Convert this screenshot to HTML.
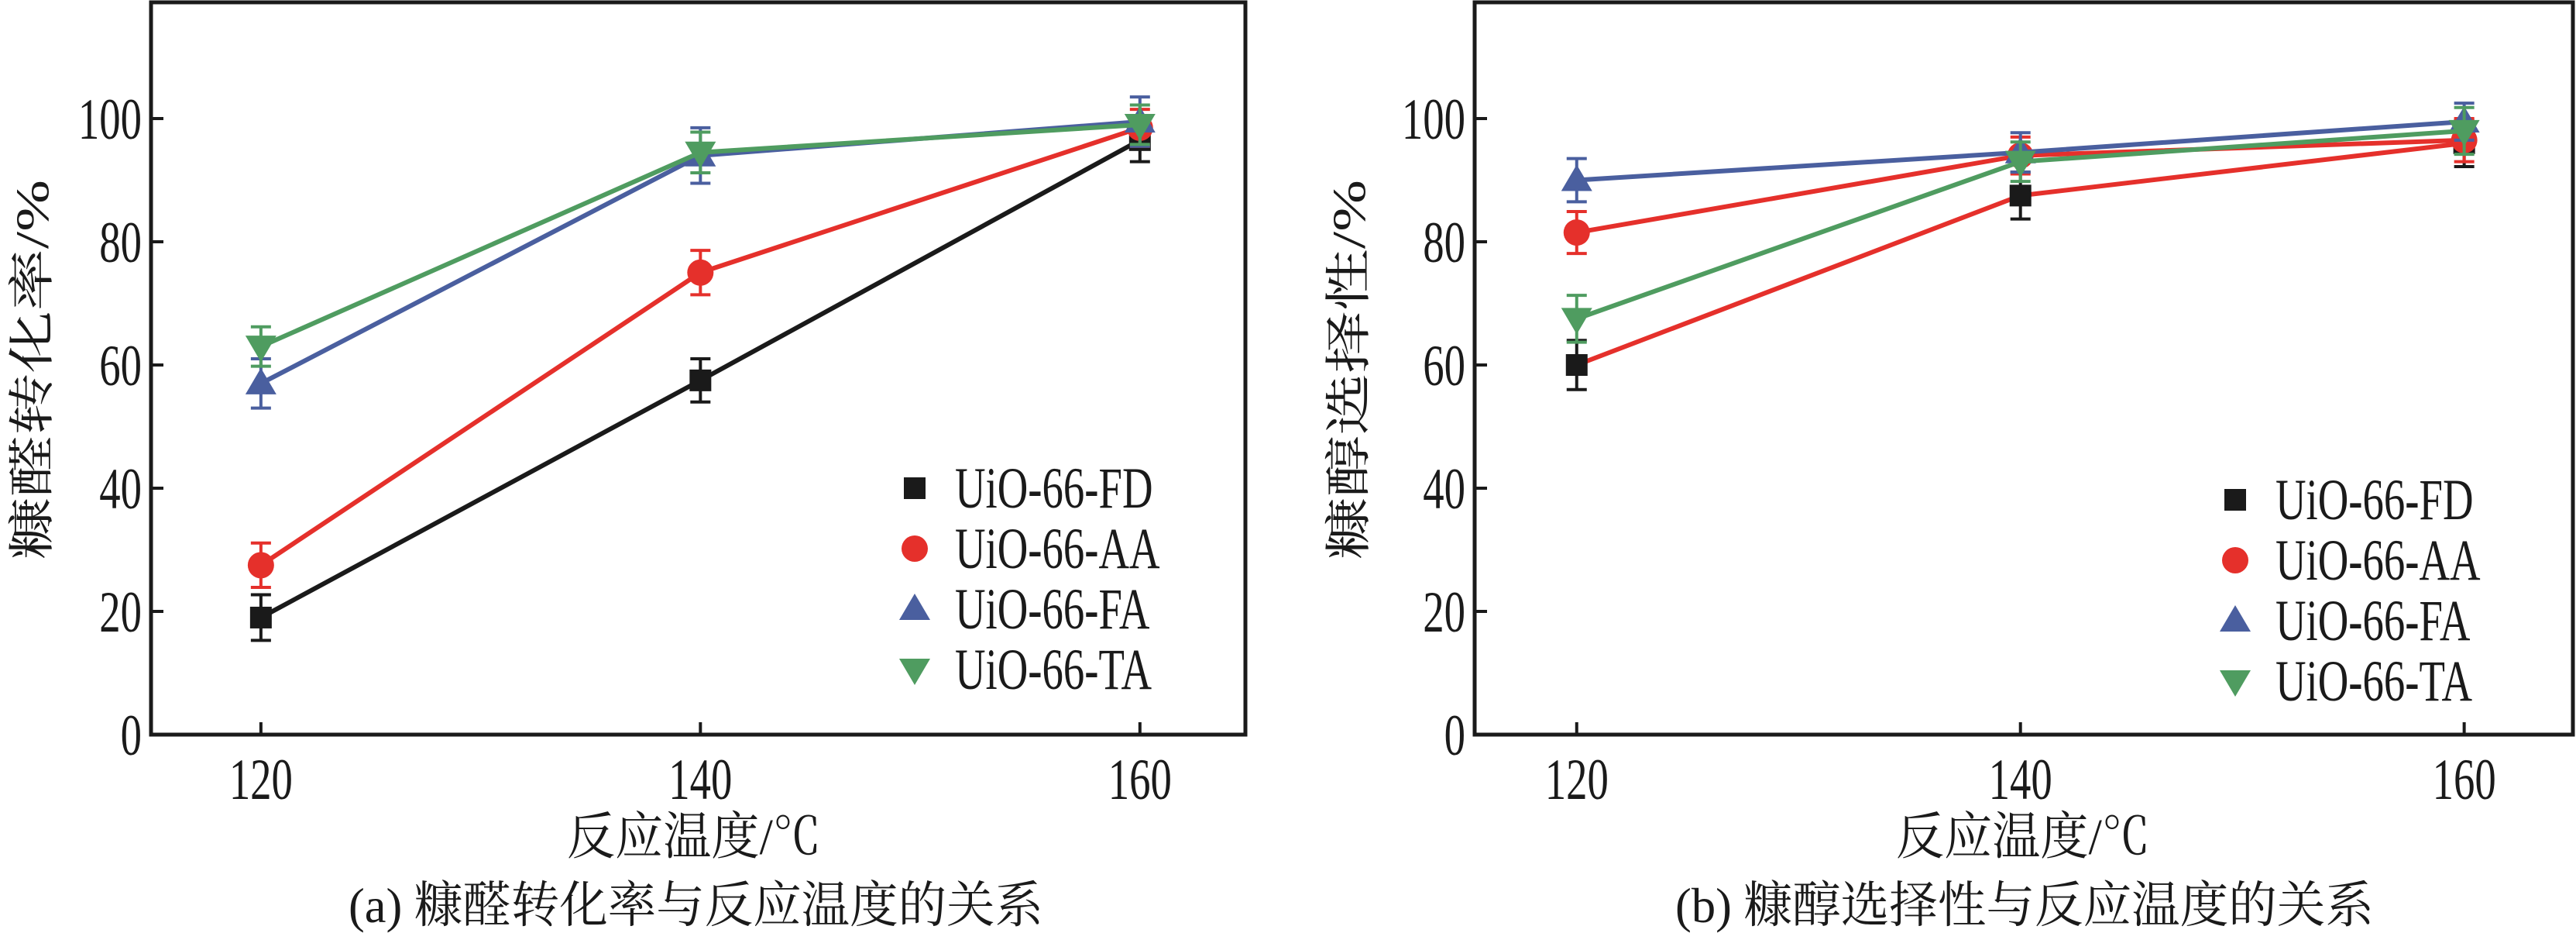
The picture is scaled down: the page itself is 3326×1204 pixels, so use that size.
<!DOCTYPE html>
<html><head><meta charset="utf-8"><style>
html,body{margin:0;padding:0;background:#fff;}
svg{display:block;}
text{font-family:"Liberation Serif","Noto Serif CJK SC",serif;fill:#1a1a1a;}
</style></head><body>
<svg id="fig" width="3326" height="1204" viewBox="0 0 3326 1204" xmlns="http://www.w3.org/2000/svg"></svg>
<script>
const xCats = [120, 140, 160];
const yTicks = [0, 20, 40, 60, 80, 100];
const seriesNames = ["UiO-66-FD", "UiO-66-AA", "UiO-66-FA", "UiO-66-TA"];
// Panel a: conversion
const convFD = [19, 57.5, 96.5];
const convAA = [27.5, 75, 98.5];
const convFA = [57, 94, 99.5];
const convTA = [63, 94.5, 99];
const convErrFD = [3.7, 3.5, 3.5];
const convErrAA = [3.6, 3.6, 3];
const convErrFA = [4, 4.5, 4];
const convErrTA = [3.2, 3.3, 3.2];
// Panel b: selectivity
const selFD = [60, 87.5, 96];
const selAA = [81.5, 94, 96.5];
const selFA = [90, 94.5, 99.5];
const selTA = [67.5, 93, 98];
const selErrFD = [4, 3.8, 3.8];
const selErrAA = [3.4, 3, 3.5];
const selErrFA = [3.5, 3.2, 3];
const selErrTA = [3.8, 3.2, 3.8];

const NS = "http://www.w3.org/2000/svg";
const svg = document.getElementById('fig');
function mk(tag, attrs, parent){const e=document.createElementNS(NS,tag);for(const k in attrs)e.setAttribute(k,attrs[k]);(parent||svg).appendChild(e);return e;}
const colors = {FD:"#1a1a1a", AA:"#e5302b", FA:"#4a5f9f", TA:"#4f9c60"};

function panel(opt){
  const L=opt.left, R=opt.right, T=3, B=948;
  const xmin=opt.xmin, xmax=opt.xmax;
  const xs=v=>L+(v-xmin)/(xmax-xmin)*(R-L);
  const ys=v=>B-v*7.95;
  const g=mk('g',{});
  
  
  const frame=mk('rect',{x:L,y:T,width:R-L,height:B-T,fill:'none',stroke:'#1a1a1a','stroke-width':5},g);
  
  
  yTicks.forEach(t=>{
    const y=ys(t);
    const tk=mk('line',{x1:L,x2:L+16,y1:y,y2:y,stroke:'#1a1a1a','stroke-width':4},g);
    
    
    const tx=mk('text',{transform:`translate(${L-12},${y+26}) scale(0.73,1)`,'font-size':75,'text-anchor':'end'},g);
    tx.textContent=t;
    
    
  });
  xCats.forEach(c=>{
    const x=xs(c);
    const tk=mk('line',{x1:x,x2:x,y1:B,y2:B-16,stroke:'#1a1a1a','stroke-width':4},g);
    
    
    const tx=mk('text',{transform:`translate(${x},${B+83}) scale(0.73,1)`,'font-size':75,'text-anchor':'middle'},g);
    tx.textContent=c;
    
    
  });
  const xt=mk('text',{x:opt.xtX,y:1102,'font-size':66,'text-anchor':'middle',textLength:328,lengthAdjust:'spacingAndGlyphs'},g);
  xt.textContent='反应温度/℃';
  
  
  const yt=mk('text',{transform:`translate(${opt.ytx},477) rotate(-90)`,'font-size':60,'text-anchor':'middle',textLength:490,lengthAdjust:'spacingAndGlyphs'},g);
  yt.textContent=opt.ytitle;
  
  
  const cap=mk('text',{x:opt.capX,y:1190,'font-size':64,textLength:opt.capW,lengthAdjust:'spacingAndGlyphs'},g);
  cap.textContent=opt.caption;
  
  

  opt.series.forEach(s=>{
    const sg=mk('g',{},g);
    
    
    const pts=s.vals.map((v,i)=>xs(xCats[i])+','+ys(v)).join(' ');
    const pl=mk('polyline',{points:pts,fill:'none',stroke:s.line,'stroke-width':6,'stroke-linejoin':'round'},sg);
    
    
    s.vals.forEach((v,i)=>{
      const x=xs(xCats[i]), y=ys(v), e=s.err[i]*7.95, c=s.mc;
      const eb=mk('path',{d:`M${x},${y-e}V${y+e}M${x-13},${y-e}H${x+13}M${x-13},${y+e}H${x+13}`,stroke:c,'stroke-width':4,fill:'none'},sg);
      
      
      const m=marker(s.key,x,y,c,sg);
      
      
    });
  });
  opt.series.forEach((s,i)=>{
    const y=opt.legY+i*78;
    const m=marker(s.key,opt.legX,y,s.mc,g);
    
    
    const t=mk('text',{transform:`translate(${opt.legX+52},${y+25}) scale(0.73,1)`,'font-size':75},g);
    t.textContent=seriesNames[i];
    
    
  });
}
function marker(k,x,y,c,p){
  if(k==='FD') return mk('rect',{x:x-14,y:y-14,width:28,height:28,fill:c},p);
  if(k==='AA') return mk('circle',{cx:x,cy:y,r:17,fill:c},p);
  if(k==='FA') return mk('polygon',{points:`${x},${y-20} ${x-20},${y+14} ${x+20},${y+14}`,fill:c},p);
  return mk('polygon',{points:`${x},${y+20} ${x-20},${y-14} ${x+20},${y-14}`,fill:c},p);
}
panel({id:'conversion',left:195,right:1608,xmin:115,xmax:164.8,xtX:896,ytx:62,ytitle:'糠醛转化率/%',caption:'(a) 糠醛转化率与反应温度的关系',capX:450,capW:897,legX:1181,legY:630,
  series:[
    {key:'FD',vals:convFD,err:convErrFD,line:colors.FD,mc:colors.FD},
    {key:'AA',vals:convAA,err:convErrAA,line:colors.AA,mc:colors.AA},
    {key:'FA',vals:convFA,err:convErrFA,line:colors.FA,mc:colors.FA},
    {key:'TA',vals:convTA,err:convErrTA,line:colors.TA,mc:colors.TA}]});
panel({id:'selectivity',left:1904,right:3322,xmin:115.4,xmax:164.9,xtX:2612,ytx:1762,ytitle:'糠醇选择性/%',caption:'(b) 糠醇选择性与反应温度的关系',capX:2163,capW:902,legX:2886,legY:645,
  series:[
    {key:'FD',vals:selFD,err:selErrFD,line:colors.AA,mc:colors.FD},
    {key:'AA',vals:selAA,err:selErrAA,line:colors.AA,mc:colors.AA},
    {key:'FA',vals:selFA,err:selErrFA,line:colors.FA,mc:colors.FA},
    {key:'TA',vals:selTA,err:selErrTA,line:colors.TA,mc:colors.TA}]});
</script>
</body></html>
